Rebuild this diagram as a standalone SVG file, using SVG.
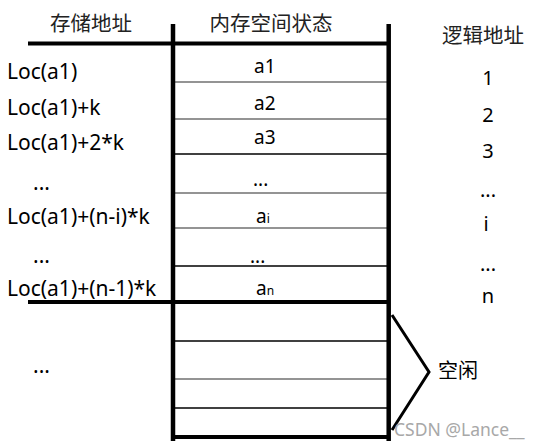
<svg xmlns="http://www.w3.org/2000/svg" width="544" height="447" viewBox="0 0 544 447">
<style>
text{font-family:"Noto Sans","Noto Sans CJK SC",sans-serif;fill:#000}
.h{font-size:20.5px;fill:#222}
.l{font-size:21px}
.m{font-size:19px}
.s{font-size:12px}
.r{font-size:20px}
.thick{stroke:#000;stroke-width:4.5;fill:none}
.bar{stroke:#000;stroke-width:4;fill:none}
.g{stroke:#707070;stroke-width:1.6}
.b{stroke:#000;stroke-width:1.6}
</style>
<rect width="544" height="447" fill="#fff"/>
<g id="headers">
<text class="h" x="91" y="31" text-anchor="middle">存储地址</text>
<text class="h" x="271" y="31" text-anchor="middle">内存空间状态</text>
<text class="h" x="483" y="43" text-anchor="middle">逻辑地址</text>
</g>
<g id="connectors">
<line class="g" x1="175" y1="82" x2="387" y2="82"/>
<line class="g" x1="175" y1="119" x2="387" y2="119"/>
<line class="b" x1="175" y1="154" x2="387" y2="154"/>
<line class="g" x1="175" y1="193" x2="387" y2="193"/>
<line class="g" x1="175" y1="228" x2="387" y2="228"/>
<line class="b" x1="175" y1="266" x2="387" y2="266"/>
<line class="b" x1="175" y1="341" x2="387" y2="341"/>
<line class="g" x1="175" y1="379" x2="387" y2="379"/>
<line class="b" x1="175" y1="408" x2="387" y2="408"/>
<line class="bar" x1="28" y1="43.5" x2="389" y2="43.5"/>
<line class="bar" x1="28" y1="302" x2="389" y2="302"/>
<line class="bar" x1="173" y1="437" x2="389" y2="437"/>
<line class="thick" x1="173" y1="24" x2="173" y2="441"/>
<line class="thick" x1="388.7" y1="24" x2="388.7" y2="441"/>
<polyline points="392,315 429,372 392,430" fill="none" stroke="#000" stroke-width="3"/>
</g>
<g id="addresses">
<text class="l" x="7" y="79">Loc(a1)</text>
<text class="l" x="7" y="115">Loc(a1)+k</text>
<text class="l" x="7" y="150">Loc(a1)+2*k</text>
<text class="l" x="33" y="190">...</text>
<text class="l" x="7" y="224">Loc(a1)+(n-i)*k</text>
<text class="l" x="33" y="263">...</text>
<text class="l" x="7" y="296">Loc(a1)+(n-1)*k</text>
<text class="l" x="33" y="373">...</text>
</g>
<g id="memory">
<text class="m" x="254" y="73">a1</text>
<text class="m" x="254" y="110">a2</text>
<text class="m" x="254" y="144">a3</text>
<text class="m" x="253" y="186">...</text>
<text class="m" x="256" y="223">a<tspan class="s">i</tspan></text>
<text class="m" x="250" y="263">...</text>
<text class="m" x="256" y="295">a<tspan class="s">n</tspan></text>
</g>
<g id="logical">
<text class="r" x="488" y="85" text-anchor="middle">1</text>
<text class="r" x="488" y="122" text-anchor="middle">2</text>
<text class="r" x="488" y="158" text-anchor="middle">3</text>
<text class="r" x="488" y="197" text-anchor="middle">...</text>
<text class="r" x="486" y="231" text-anchor="middle">i</text>
<text class="r" x="488" y="271" text-anchor="middle">...</text>
<text class="r" x="488" y="303" text-anchor="middle">n</text>
</g>
<g id="free">
<text x="438" y="378" style="font-size:20px">空闲</text>
</g>
<text x="394" y="436" style="font-size:17.5px;fill:#a8a8a8">CSDN @Lance__</text>
</svg>
